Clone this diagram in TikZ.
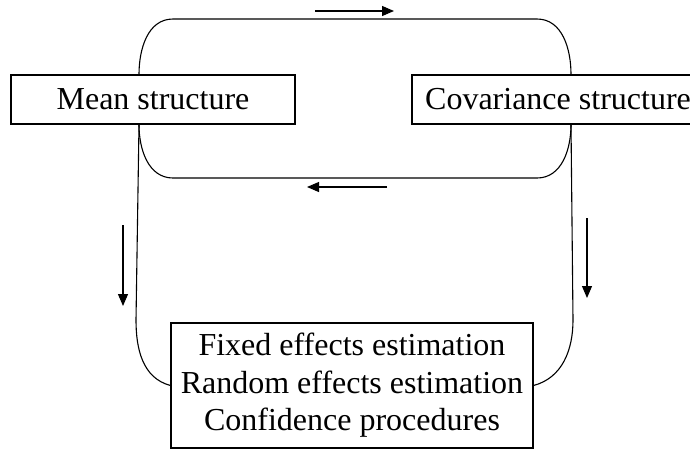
\documentclass[tikz,border=0pt]{standalone}
\usepackage{fontspec}
\setmainfont{Liberation Serif}
\usetikzlibrary{arrows.meta}

\begin{document}
\begin{tikzpicture}[
    x=0.5pt, y=-0.5pt,
    structbox/.style={draw=black, line width=0.6pt, inner sep=0pt, minimum height=24.5pt,
        font=\fontsize{16}{18.75}\selectfont},
    loopline/.style={line width=0.55pt},
    dirarrow/.style={-{Triangle[length=6pt,width=5pt]}, line width=0.55pt}
]
    \useasboundingbox (0,0) rectangle (690,450);

    \node[structbox, minimum width=142pt] at (153,99.5) (mean) {Mean structure};
    \node[structbox, minimum width=146pt] at (558,99.5) (cov) {Covariance structure};
    \node[structbox, minimum width=181pt, minimum height=62.5pt, align=center] at (352,385.5) (est)
        {Fixed effects estimation\\ Random effects estimation\\ Confidence procedures};

    % loop between the two structures
    \draw[loopline] (mean.north -| 139,0) to[out=90,in=180] (173,19) -- (537,19)
        to[out=0,in=90] (cov.north -| 571,0);
    \draw[loopline] (mean.south -| 139,0) to[out=-90,in=180] (173,178) -- (537,178)
        to[out=0,in=-90] (cov.south -| 571,0);

    % lines down to the estimation box
    \draw[loopline] (mean.south -| 139,0) -- (136,320) to[out=-90,in=165] (est.west);
    \draw[loopline] (cov.south -| 571,0) -- (573,320) to[out=-90,in=15] (est.east);

    \coordinate (topa) at (315,11);
    \coordinate (topb) at (394,11);
    \coordinate (bota) at (387,187);
    \coordinate (botb) at (307,187);
    \coordinate (lefta) at (123,225);
    \coordinate (leftb) at (123,306);
    \coordinate (righta) at (587,218);
    \coordinate (rightb) at (587,298);

    \draw[dirarrow] (topa) -- (topb);
    \draw[dirarrow] (bota) -- (botb);
    \draw[dirarrow] (lefta) -- (leftb);
    \draw[dirarrow] (righta) -- (rightb);
\end{tikzpicture}
\end{document}
